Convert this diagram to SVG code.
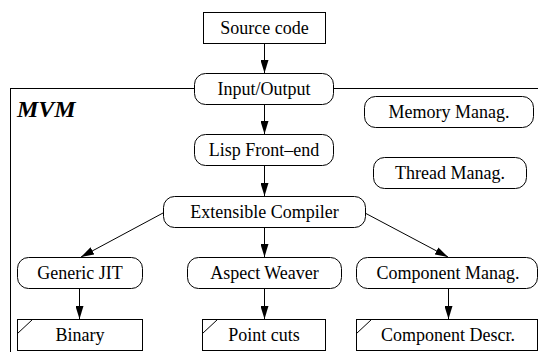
<svg xmlns="http://www.w3.org/2000/svg" width="538" height="352" viewBox="0 0 538 352">
<defs>
<style>
.n{fill:#fff;stroke:#000;stroke-width:1}
.f{fill:none;stroke:#000;stroke-width:1}
.t{font-family:'Liberation Serif','Times New Roman',Times,'DejaVu Serif',serif;font-size:18px;text-anchor:middle;fill:#000}
.c{fill:none;stroke:#000;stroke-width:1;marker-end:url(#a)}
</style>
<marker id="a" markerWidth="13" markerHeight="8" refX="13" refY="4" orient="auto" markerUnits="userSpaceOnUse">
<path d="M0,0 L13,4 L0,8 Z" fill="#000"/>
</marker>
</defs>
<rect x="0" y="0" width="538" height="352" fill="#fff"/>
<g id="mvm">
<rect class="f" x="10.5" y="88.5" width="540" height="270"/>
<text x="17" y="117" font-family="'Liberation Serif','Times New Roman',Times,'DejaVu Serif',serif" font-size="24" font-weight="bold" font-style="italic">MVM</text>
</g>
<g id="connectors">
<line class="c" x1="264.5" y1="43" x2="264.5" y2="73"/>
<line class="c" x1="264.5" y1="104" x2="264.5" y2="134"/>
<line class="c" x1="264.5" y1="166" x2="264.5" y2="196"/>
<line class="c" x1="163" y1="213" x2="81" y2="257"/>
<line class="c" x1="264.5" y1="227" x2="264.5" y2="257"/>
<line class="c" x1="365" y1="213" x2="448" y2="257"/>
<line class="c" x1="79.5" y1="288" x2="79.5" y2="319"/>
<line class="c" x1="264.5" y1="288" x2="264.5" y2="319"/>
<line class="c" x1="448.5" y1="288" x2="448.5" y2="319"/>
</g>
<g id="source">
<rect class="n" x="203.5" y="12.5" width="122" height="31"/>
<text class="t" x="264.5" y="34">Source code</text>
</g>
<g id="io">
<rect class="n" x="194.5" y="73.5" width="139" height="31" rx="11"/>
<text class="t" x="264" y="95">Input/Output</text>
</g>
<g id="memory">
<rect class="n" x="364.5" y="96.5" width="169" height="31" rx="11"/>
<text class="t" x="449" y="118">Memory Manag.</text>
</g>
<g id="lisp">
<rect class="n" x="194.5" y="134.5" width="139" height="31" rx="11"/>
<text class="t" x="264" y="156">Lisp Front–end</text>
</g>
<g id="thread">
<rect class="n" x="373.5" y="157.5" width="153" height="31" rx="11"/>
<text class="t" x="450" y="179">Thread Manag.</text>
</g>
<g id="compiler">
<rect class="n" x="163.5" y="196.5" width="202" height="31" rx="11"/>
<text class="t" x="264.5" y="218">Extensible Compiler</text>
</g>
<g id="jit">
<rect class="n" x="17.5" y="257.5" width="125" height="31" rx="11"/>
<text class="t" x="80" y="279">Generic JIT</text>
</g>
<g id="weaver">
<rect class="n" x="187.5" y="257.5" width="154" height="31" rx="11"/>
<text class="t" x="264.5" y="279">Aspect Weaver</text>
</g>
<g id="compmanag">
<rect class="n" x="356.5" y="257.5" width="181" height="31" rx="11"/>
<text class="t" x="448" y="279">Component Manag.</text>
</g>
<g id="binary">
<rect class="n" x="17.5" y="319.5" width="125" height="31"/>
<line class="f" x1="17.5" y1="333.5" x2="32.5" y2="319.5"/>
<text class="t" x="80" y="341">Binary</text>
</g>
<g id="pointcuts">
<rect class="n" x="202.5" y="319.5" width="123" height="31"/>
<line class="f" x1="202.5" y1="333.5" x2="217.5" y2="319.5"/>
<text class="t" x="264" y="341">Point cuts</text>
</g>
<g id="descr">
<rect class="n" x="356.5" y="319.5" width="181" height="31"/>
<line class="f" x1="356.5" y1="333.5" x2="371.5" y2="319.5"/>
<text class="t" x="448" y="341">Component Descr.</text>
</g>
</svg>
